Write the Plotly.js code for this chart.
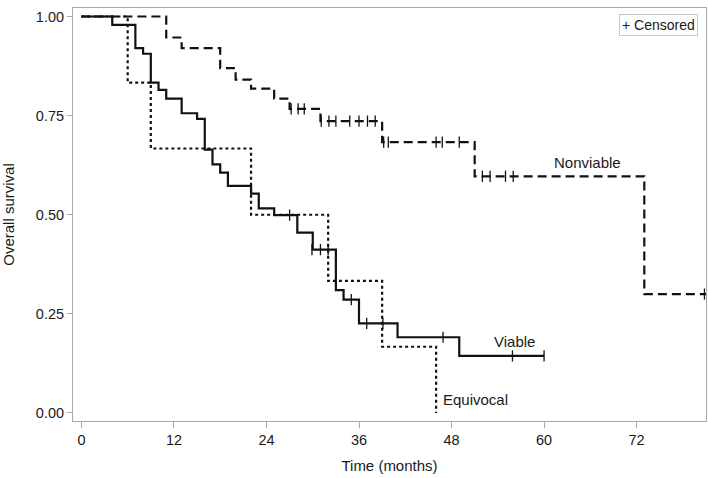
<!DOCTYPE html>
<html>
<head>
<meta charset="utf-8">
<script src="https://cdn.plot.ly/plotly-3.0.1.min.js"></script>
<style>html,body{margin:0;padding:0;background:#fff;}#chart{width:708px;height:478px;}</style>
</head>
<body>
<div id="chart"></div>
<script>
// Kaplan-Meier step data (time in months, survival probability)
const nonviableTime = [0, 11, 13, 18, 20, 22, 25, 27, 31, 39, 51, 73, 81];
const nonviableSurv = [1.0, 0.947, 0.920, 0.870, 0.841, 0.818, 0.793, 0.767, 0.736, 0.683, 0.597, 0.300, 0.300];
const nonviableCensorTime = [27.2, 28.1, 28.9, 31.1, 32.1, 33.0, 34.8, 36.0, 37.1, 38.1, 39.2, 39.8, 46.0, 46.8, 49.0, 52.0, 53.0, 55.0, 56.0, 80.8];
const nonviableCensorSurv = [0.767, 0.767, 0.767, 0.736, 0.736, 0.736, 0.736, 0.736, 0.736, 0.736, 0.683, 0.683, 0.683, 0.683, 0.683, 0.597, 0.597, 0.597, 0.597, 0.300];

const viableTime = [0, 4, 7, 8, 9, 10, 11, 13, 15, 16, 17, 18, 19, 22, 23, 25, 28, 30, 33, 34, 36, 41, 49, 60];
const viableSurv = [1.0, 0.979, 0.920, 0.906, 0.833, 0.815, 0.793, 0.756, 0.742, 0.664, 0.627, 0.606, 0.573, 0.553, 0.516, 0.499, 0.455, 0.412, 0.310, 0.286, 0.226, 0.191, 0.144, 0.144];
const viableCensorTime = [27.0, 29.9, 31.0, 32.0, 35.0, 37.0, 39.1, 46.9, 55.9, 60.0];
const viableCensorSurv = [0.499, 0.412, 0.412, 0.412, 0.286, 0.226, 0.226, 0.191, 0.144, 0.144];

const equivocalTime = [0, 6, 9, 22, 32, 39, 46];
const equivocalSurv = [1.0, 0.833, 0.667, 0.500, 0.333, 0.167, 0.0];

const xTicks = [0, 12, 24, 36, 48, 60, 72];
const yTicks = [0, 0.25, 0.5, 0.75, 1.0];

const groupLabels = ['Nonviable', 'Viable', 'Equivocal'];
const labelX = [61.0, 53.2, 46.6];
const labelY = [0.633, 0.180, 0.035];

const FONT = 'Liberation Sans, Arial, sans-serif';
const censorMarker = {symbol: 'line-ns-open', size: 8, color: '#111', line: {width: 1.3, color: '#111'}};

const traces = [
  {x: nonviableTime, y: nonviableSurv, mode: 'lines', line: {shape: 'hv', color: '#111', width: 2.2, dash: '9px,5px'}, showlegend: false, hoverinfo: 'skip'},
  {x: viableTime, y: viableSurv, mode: 'lines', line: {shape: 'hv', color: '#111', width: 2.2}, showlegend: false, hoverinfo: 'skip'},
  {x: equivocalTime, y: equivocalSurv, mode: 'lines', line: {shape: 'hv', color: '#111', width: 2.2, dash: '3px,3px'}, showlegend: false, hoverinfo: 'skip'},
  {x: nonviableCensorTime, y: nonviableCensorSurv, mode: 'markers', marker: censorMarker, showlegend: false, cliponaxis: false},
  {x: viableCensorTime, y: viableCensorSurv, mode: 'markers', marker: censorMarker, showlegend: false, cliponaxis: false}
];

const annotations = groupLabels.map((t, i) => ({
  x: labelX[i], y: labelY[i], xref: 'x', yref: 'y', text: t, showarrow: false,
  xanchor: 'left', yanchor: 'middle', font: {family: FONT, size: 15, color: '#1a1a1a'}
}));
annotations.push({
  x: 0.988, y: 0.986, xref: 'paper', yref: 'paper', xanchor: 'right', yanchor: 'top',
  text: '+ Censored', showarrow: false, font: {family: FONT, size: 14, color: '#1a1a1a'},
  bordercolor: '#c8c8c8', borderwidth: 1, borderpad: 2, bgcolor: '#fff'
});

const axisCommon = {
  showline: true, mirror: true, linecolor: '#a8a8a8', linewidth: 1,
  ticks: 'outside', tickcolor: '#a8a8a8', ticklen: 6, tickwidth: 1,
  showgrid: false, zeroline: false,
  tickfont: {family: FONT, size: 14.5, color: '#1a1a1a'}
};

const layout = {
  width: 708, height: 478,
  margin: {l: 73, r: 2, t: 8, b: 57},
  paper_bgcolor: '#fff', plot_bgcolor: '#fff',
  font: {family: FONT},
  xaxis: Object.assign({}, axisCommon, {
    range: [-1.09, 81], tickvals: xTicks, ticktext: xTicks.map(String),
    title: {text: 'Time (months)', font: {family: FONT, size: 15, color: '#1a1a1a'}, standoff: 13}
  }),
  yaxis: Object.assign({}, axisCommon, {
    range: [-0.0202, 1.0214], tickvals: yTicks, tickformat: '.2f', ticklen: 5,
    title: {text: 'Overall survival', font: {family: FONT, size: 15, color: '#1a1a1a'}, standoff: 18}
  }),
  annotations: annotations
};

Plotly.newPlot('chart', traces, layout, {displayModeBar: false, staticPlot: true});
</script>
</body>
</html>
